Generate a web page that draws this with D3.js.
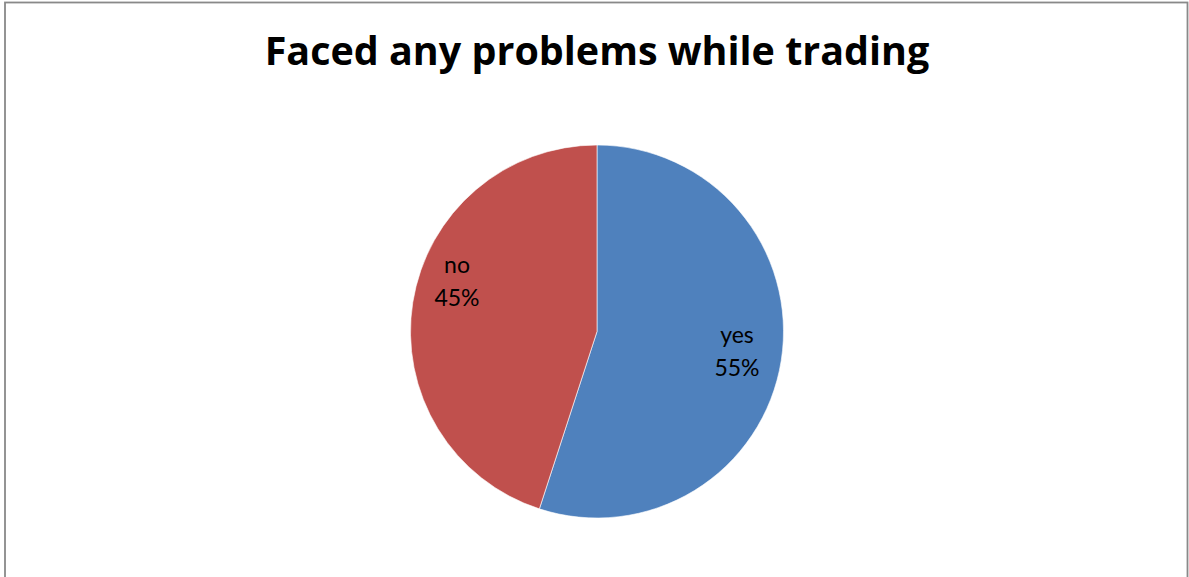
<!DOCTYPE html>
<html>
<head>
<meta charset="utf-8">
<script src="https://cdn.jsdelivr.net/npm/d3@7"></script>
<style>
  html, body { margin: 0; padding: 0; background: #ffffff; }
  svg { display: block; }
</style>
</head>
<body>
<svg id="chart" width="1189" height="577"></svg>
<script>
// Survey answers and their shares
const categories = ["yes", "no"];
const shares = [55, 45];
const sliceColors = ["#4f81bd", "#c0504d"];
const chartTitle = "Faced any problems while trading";

const width = 1189, height = 577;
const svg = d3.select("#chart");

// Frame around the chart area
svg.append("rect")
  .attr("x", 5).attr("y", 2.5)
  .attr("width", 1182.5).attr("height", 580)
  .attr("fill", "#ffffff")
  .attr("stroke", "#898989")
  .attr("stroke-width", 1.8);

// Title, sized to span the same width as the chart heading
const titleWidth = 665;
const title = svg.append("text")
  .attr("x", 597)
  .attr("y", 65)
  .attr("text-anchor", "middle")
  .attr("font-family", "'Open Sans', Lato, sans-serif")
  .attr("font-weight", 700)
  .attr("font-size", 36)
  .attr("fill", "#000000")
  .text(chartTitle);
const measured = title.node().getComputedTextLength();
if (measured > 0) title.attr("font-size", 36 * titleWidth / measured);

// Pie
const cx = 597, cy = 331.5, radius = 186.5;
const data = categories.map((c, i) => ({ label: c, value: shares[i], color: sliceColors[i] }));

const pie = d3.pie().value(d => d.value).sort(null);
const arc = d3.arc().innerRadius(0).outerRadius(radius);
const labelArc = d3.arc().innerRadius(radius * 0.76).outerRadius(radius * 0.76);

const g = svg.append("g").attr("transform", `translate(${cx},${cy})`);
const arcs = pie(data);

g.selectAll("path.slice")
  .data(arcs)
  .join("path")
  .attr("class", "slice")
  .attr("d", arc)
  .attr("fill", d => d.data.color)
  .attr("stroke", "#ffffff")
  .attr("stroke-width", 0.6);

// Data labels: category name over percentage, nudged to sit like the original layout
const labelNudge = { yes: [0, -5], no: [0, -30] };
const labels = g.selectAll("g.label")
  .data(arcs)
  .join("g")
  .attr("class", "label")
  .attr("transform", d => {
    const [x, y] = labelArc.centroid(d);
    const [nx, ny] = labelNudge[d.data.label];
    return `translate(${x + nx},${y + ny})`;
  });

labels.append("text")
  .attr("text-anchor", "middle")
  .attr("font-family", "Lato, 'Open Sans', sans-serif")
  .attr("font-size", 23)
  .attr("fill", "#000000")
  .attr("y", -6)
  .text(d => d.data.label);

labels.append("text")
  .attr("text-anchor", "middle")
  .attr("font-family", "Lato, 'Open Sans', sans-serif")
  .attr("font-size", 23)
  .attr("fill", "#000000")
  .attr("y", 27)
  .text(d => d3.format(".0f")(d.data.value) + "%");
</script>
</body>
</html>
